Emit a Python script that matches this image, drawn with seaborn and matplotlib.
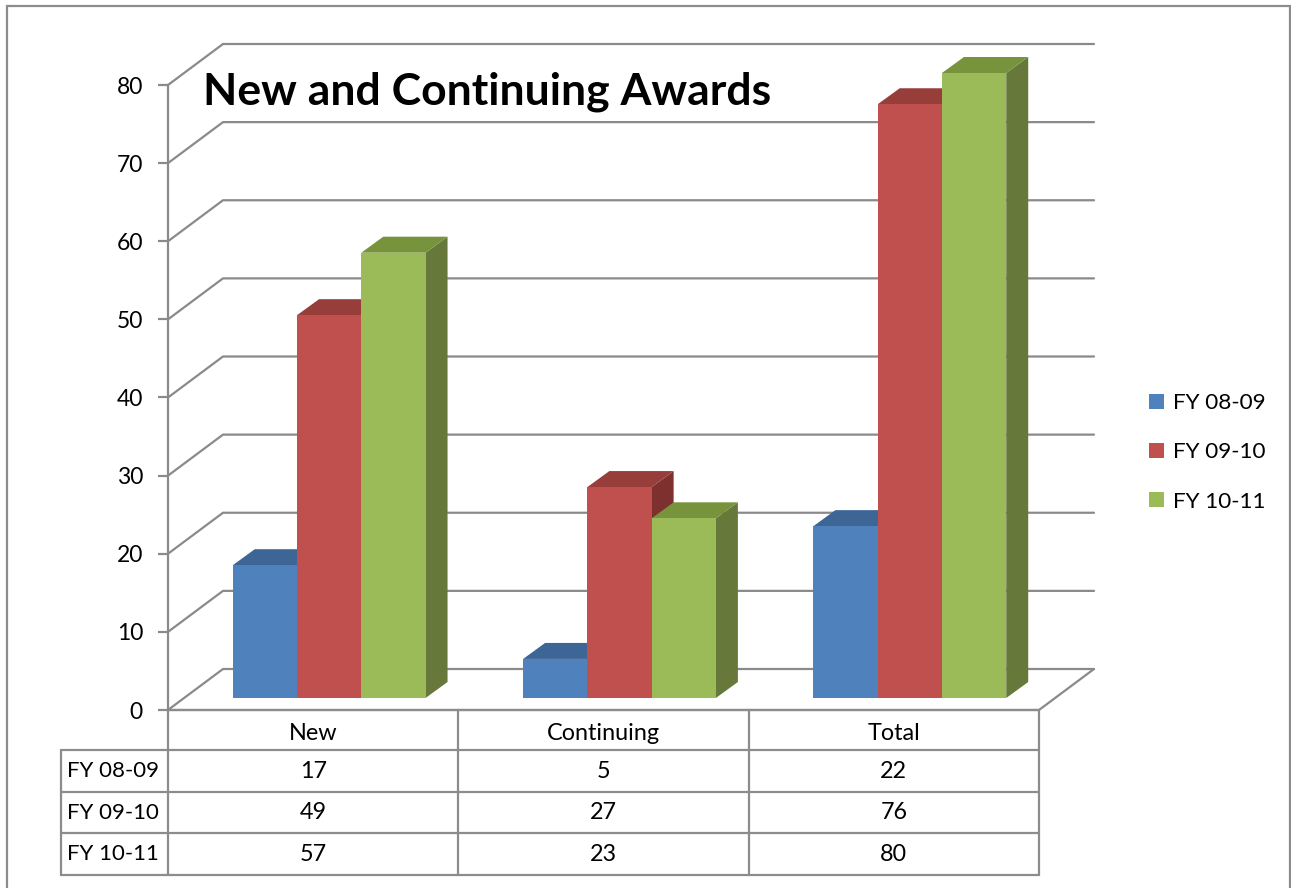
import numpy as np
import pandas as pd
import matplotlib
matplotlib.use("Agg")
import matplotlib.pyplot as plt
import matplotlib.patches as mpatches
from matplotlib.patches import Polygon, Rectangle
import seaborn as sns

# ---------------------------------------------------------
# Data
# ---------------------------------------------------------
categories = ["New", "Continuing", "Total"]
periods = ["FY 08-09", "FY 09-10", "FY 10-11"]
fy_08_09 = [17, 5, 22]
fy_09_10 = [49, 27, 76]
fy_10_11 = [57, 23, 80]
y_ticks = [0, 10, 20, 30, 40, 50, 60, 70, 80]
title = "New and Continuing Awards"

colors = ["#4F81BD", "#C0504D", "#9BBB59"]
tops = ["#3D6697", "#973D3A", "#77933C"]
sides = ["#34567F", "#7E302E", "#67793A"]
grid_col = "#8A8A8A"

df = pd.DataFrame({
    "category": categories * 3,
    "period": np.repeat(periods, 3),
    "value": fy_08_09 + fy_09_10 + fy_10_11,
})

# ---------------------------------------------------------
# Figure / axes (front plane of the 3D box)
# ---------------------------------------------------------
sns.set_style("white")
plt.rcParams["font.family"] = ["Lato", "DejaVu Sans"]
plt.rcParams["text.color"] = "black"
plt.rcParams["ytick.labelcolor"] = "black"

W, H = 1291, 888
fig = plt.figure(figsize=(W / 100, H / 100), dpi=100)
ax_l, ax_r, ax_b, ax_t = 168, 1039, 710, 85
ax = fig.add_axes([ax_l / W, (H - ax_b) / H, (ax_r - ax_l) / W, (ax_b - ax_t) / H])

sns.barplot(data=df, x="category", y="value", hue="period", order=categories,
            hue_order=periods, palette=colors, saturation=1, width=0.664,
            linewidth=0, legend=False, ax=ax)
ax.set_xlim(-0.5, 2.5)
ax.set_ylim(0, 80)

# pixel -> data unit conversions
px_x = (ax_r - ax_l) / 3.0
px_y = (ax_b - ax_t) / 80.0
wall_dx, wall_dy = 55 / px_x, 41 / px_y
bar_dx, bar_dy = 16 / px_x, 12 / px_y
depth_dx, depth_dy = 22 / px_x, 16 / px_y

# ---------------------------------------------------------
# Walls and gridlines
# ---------------------------------------------------------
for v in y_ticks:
    ax.plot([-0.5, -0.5 + wall_dx, 2.5 + wall_dx], [v, v + wall_dy, v + wall_dy],
            color=grid_col, lw=1.6, clip_on=False, zorder=1)
ax.plot([2.5, 2.5 + wall_dx], [0, wall_dy], color=grid_col, lw=1.6,
        clip_on=False, zorder=1)
ax.plot([-0.5, 2.5], [0, 0], color=grid_col, lw=1.6, clip_on=False, zorder=1)

# ---------------------------------------------------------
# 3D bars: move the front faces back a bit, add top and side
# ---------------------------------------------------------
for i, cont in enumerate(ax.containers):
    for bar in cont:
        x0 = bar.get_x() + bar_dx
        w = bar.get_width()
        h = bar.get_height()
        bar.set_x(x0)
        bar.set_y(bar_dy)
        bar.set_zorder(3 + i * 3 + 2)
        y0, y1 = bar_dy, bar_dy + h
        x1 = x0 + w
        side = Polygon([(x1, y0), (x1 + depth_dx, y0 + depth_dy),
                        (x1 + depth_dx, y1 + depth_dy), (x1, y1)],
                       closed=True, facecolor=sides[i], edgecolor="none",
                       clip_on=False, zorder=3 + i * 3)
        top = Polygon([(x0, y1), (x1, y1), (x1 + depth_dx, y1 + depth_dy),
                       (x0 + depth_dx, y1 + depth_dy)],
                      closed=True, facecolor=tops[i], edgecolor="none",
                      clip_on=False, zorder=3 + i * 3 + 1)
        ax.add_patch(side)
        ax.add_patch(top)
        bar.set_clip_on(False)

# ---------------------------------------------------------
# Axis styling
# ---------------------------------------------------------
for s in ["top", "right", "bottom"]:
    ax.spines[s].set_visible(False)
ax.spines["left"].set_color(grid_col)
ax.spines["left"].set_linewidth(1.6)
ax.set_yticks(y_ticks)
ax.set_yticklabels([str(v) for v in y_ticks])
ax.tick_params(axis="y", length=7, width=1.6, color=grid_col, pad=11,
               labelsize=16.5, left=True, labelcolor="black")
ax.set_xticks([])
ax.set_xlabel("")
ax.set_ylabel("")
ax.patch.set_alpha(0)

# ---------------------------------------------------------
# Data table under the chart
# ---------------------------------------------------------
row_px = [710, 750, 792, 833, 875]
row_y = [(ax_b - r) / px_y for r in row_px]
lab_left = -0.5 - (168 - 61) / px_x
col_x = [-0.5, 0.5, 1.5, 2.5]
tcol = "#8C8C8C"
lw_t = 1.6
fs_t = 16.8

for yy in row_y:
    ax.plot([-0.5, 2.5], [yy, yy], color=tcol, lw=lw_t, clip_on=False)
for yy in row_y[1:]:
    ax.plot([lab_left, -0.5], [yy, yy], color=tcol, lw=lw_t, clip_on=False)
for xx in col_x:
    ax.plot([xx, xx], [row_y[0], row_y[-1]], color=tcol, lw=lw_t, clip_on=False)
ax.plot([lab_left, lab_left], [row_y[1], row_y[-1]], color=tcol, lw=lw_t,
        clip_on=False)

for j, cat in enumerate(categories):
    ax.text(j, (row_y[0] + row_y[1]) / 2 - 0.5, cat, ha="center", va="center",
            fontsize=fs_t, clip_on=False)
series = [fy_08_09, fy_09_10, fy_10_11]
for r, (per, vals) in enumerate(zip(periods, series)):
    yc = (row_y[r + 1] + row_y[r + 2]) / 2
    ax.text(lab_left + 6 / px_x, yc, per, ha="left", va="center",
            fontsize=16, clip_on=False)
    for j, v in enumerate(vals):
        ax.text(j, yc, str(v), ha="center", va="center", fontsize=fs_t,
                clip_on=False)

# ---------------------------------------------------------
# Title, legend, outer frame
# ---------------------------------------------------------
fig.text(203 / W, (H - 105) / H, title, fontsize=32, fontweight="bold",
         ha="left", va="baseline")

handles = [mpatches.Patch(facecolor=c, edgecolor="none") for c in colors]
fig.legend(handles, periods, loc="upper left",
           bbox_to_anchor=(1149 / W, (H - 393) / H), frameon=False,
           fontsize=16.2, handlelength=0.65, handleheight=0.65,
           handletextpad=0.4, labelspacing=1.3, borderpad=0, borderaxespad=0)

fig.patches.append(Rectangle((7 / W, -0.01), (1290 - 7) / W, (H - 6) / H + 0.01,
                             transform=fig.transFigure, fill=False,
                             edgecolor="#8C8C8C", lw=1.6))

fig.savefig("out.png", dpi=100)
